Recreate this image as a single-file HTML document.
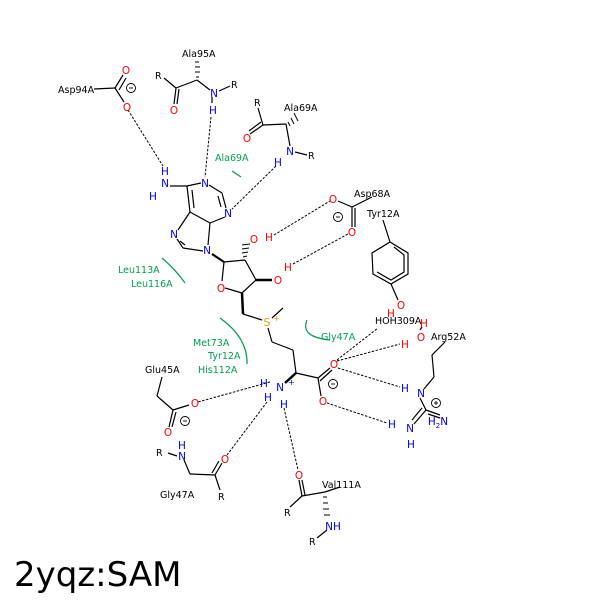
<!DOCTYPE html>
<html><head><meta charset="utf-8"><style>body{margin:0;background:#fff}svg{display:block}</style></head><body>
<svg width="600" height="600" viewBox="0 0 600 600" xmlns="http://www.w3.org/2000/svg" font-family="'DejaVu Sans','Liberation Sans',sans-serif">
<g stroke="#000" stroke-width="1.2" fill="none">
<line x1="94" y1="89" x2="115" y2="88"/><line x1="115" y1="88" x2="123" y2="75"/><line x1="119" y1="90" x2="126" y2="78"/><line x1="115" y1="88" x2="124" y2="102"/>
<line x1="164" y1="78" x2="176" y2="88"/><line x1="176" y1="88" x2="197" y2="80"/><line x1="176" y1="88" x2="174" y2="104"/><line x1="179" y1="89" x2="177" y2="104"/><line x1="197" y1="80" x2="210" y2="90"/><line x1="219" y1="91" x2="230" y2="86"/><line x1="212" y1="97" x2="212" y2="103"/>
<line x1="258" y1="108" x2="263" y2="125"/><line x1="263" y1="125" x2="250" y2="134"/><line x1="261" y1="122" x2="249" y2="131"/><line x1="263" y1="125" x2="286" y2="124"/><line x1="286" y1="124" x2="290" y2="146"/><line x1="295" y1="152" x2="307" y2="155"/>
<line x1="170" y1="186" x2="187" y2="186"/>
<line x1="187" y1="186" x2="201" y2="183"/><line x1="209" y1="185" x2="222" y2="193"/><line x1="222" y1="193" x2="226" y2="208"/><line x1="218" y1="196" x2="221" y2="207"/><line x1="225" y1="217" x2="210" y2="223"/><line x1="210" y1="223" x2="190" y2="212"/><line x1="187" y1="186" x2="190" y2="212"/><line x1="192" y1="190" x2="194" y2="208"/><line x1="190" y1="212" x2="178" y2="230"/><line x1="177" y1="239" x2="183" y2="248"/><line x1="183" y1="248" x2="203" y2="251"/><line x1="210" y1="223" x2="208" y2="245"/>
<line x1="180" y1="241" x2="185" y2="245"/>
<path d="M212 254 L224 262" stroke-width="2.2"/>
<line x1="224" y1="262" x2="245" y2="260"/><line x1="245" y1="260" x2="256" y2="280"/><line x1="256" y1="280" x2="242" y2="293"/><line x1="242" y1="293" x2="225" y2="288"/><line x1="224" y1="262" x2="222" y2="281"/>
<path d="M256 280 L272 280" stroke-width="2.5"/>
<path d="M242 293 L243 314" stroke-width="2.5"/>
<line x1="243" y1="314" x2="262" y2="320"/><line x1="272" y1="318" x2="283" y2="308"/>
<line x1="268" y1="328" x2="272" y2="342"/><line x1="272" y1="342" x2="293" y2="350"/><line x1="293" y1="350" x2="296" y2="373"/><line x1="296" y1="373" x2="318" y2="378"/><line x1="318" y1="378" x2="330" y2="368"/><line x1="320" y1="381" x2="332" y2="370"/><line x1="318" y1="378" x2="321" y2="396"/>
<path d="M296 373 L285 383" stroke-width="2.5"/>
<line x1="352" y1="207" x2="372" y2="197"/><line x1="352" y1="207" x2="338" y2="201"/><line x1="352" y1="207" x2="352" y2="227"/><line x1="355" y1="208" x2="355" y2="227"/>
<line x1="383" y1="220" x2="390" y2="242"/>
<polygon points="390,242 408,253 408,274 391,284 373,274 372,253"/>
<polyline points="394,247 404,255 404,272 391,280 377,272"/>
<line x1="391" y1="284" x2="398" y2="300"/>
<line x1="162" y1="377" x2="157" y2="396"/><line x1="157" y1="396" x2="173" y2="410"/><line x1="173" y1="410" x2="189" y2="405"/><line x1="173" y1="410" x2="169" y2="427"/><line x1="176" y1="412" x2="172" y2="427"/>
<line x1="168" y1="453" x2="177" y2="456"/><line x1="184" y1="460" x2="190" y2="474"/><line x1="190" y1="474" x2="215" y2="475"/><line x1="215" y1="475" x2="222" y2="463"/><line x1="212" y1="473" x2="219" y2="461"/><line x1="215" y1="475" x2="220" y2="490"/>
<line x1="299" y1="480" x2="302" y2="496"/><line x1="302" y1="480" x2="305" y2="495"/><line x1="302" y1="496" x2="290" y2="507"/><line x1="302" y1="496" x2="325" y2="492"/><line x1="325" y1="492" x2="340" y2="487"/><line x1="317" y1="538" x2="327" y2="530"/>
<line x1="445" y1="342" x2="432" y2="355"/><line x1="432" y1="355" x2="434" y2="377"/><line x1="434" y1="377" x2="424" y2="389"/><line x1="420" y1="398" x2="426" y2="410"/><line x1="426" y1="410" x2="414" y2="424"/><line x1="422" y1="408" x2="412" y2="420"/><line x1="426" y1="410" x2="440" y2="415"/><line x1="428" y1="414" x2="440" y2="418"/>
<line x1="420" y1="330" x2="422" y2="327"/>
</g>
<g stroke="#000" stroke-width="1">
<line x1="195" y1="62" x2="199" y2="62"/><line x1="195" y1="67" x2="200" y2="67"/><line x1="195" y1="72" x2="200" y2="72"/><line x1="196" y1="77" x2="199" y2="77"/>
<line x1="288" y1="122" x2="290" y2="126"/><line x1="291" y1="118" x2="294" y2="124"/><line x1="294" y1="113" x2="298" y2="121"/>
<line x1="243" y1="257" x2="247" y2="256"/><line x1="242" y1="253" x2="248" y2="252"/><line x1="242" y1="249" x2="249" y2="248"/><line x1="242" y1="245" x2="250" y2="244"/>
<line x1="323" y1="497" x2="327" y2="497"/><line x1="323" y1="503" x2="328" y2="503"/><line x1="323" y1="509" x2="329" y2="509"/><line x1="324" y1="515" x2="330" y2="515"/>
</g>
<g stroke="#000" stroke-width="1" stroke-dasharray="2.5,1.5" fill="none">
<line x1="128" y1="110" x2="163" y2="166"/>
<line x1="211" y1="117" x2="205" y2="177"/>
<line x1="276" y1="166" x2="232" y2="209"/>
<line x1="274" y1="235" x2="330" y2="201"/>
<line x1="293" y1="264" x2="348" y2="234"/>
<line x1="270" y1="382" x2="198" y2="402"/>
<line x1="267" y1="402" x2="227" y2="455"/>
<line x1="284" y1="408" x2="298" y2="470"/>
<line x1="337" y1="360" x2="378" y2="328"/>
<line x1="337" y1="361" x2="400" y2="344"/>
<line x1="338" y1="368" x2="400" y2="387"/>
<line x1="327" y1="403" x2="387" y2="423"/>
</g>
<g stroke="#009f50" stroke-width="1.2" fill="none">
<path d="M232 171 L241 177"/>
<path d="M162 258 Q176 270 185 283"/>
<path d="M220 318 Q248 338 247 364"/>
<path d="M307 320 Q300 337 330 340"/>
</g>
<g font-size="9.5" fill="#000">
<text x="58" y="93">Asp94A</text>
<text x="182" y="57">Ala95A</text>
<text x="284" y="111">Ala69A</text>
<text x="354" y="197">Asp68A</text>
<text x="367" y="217">Tyr12A</text>
<text x="375" y="324">HOH309A</text>
<text x="431" y="340">Arg52A</text>
<text x="145" y="373">Glu45A</text>
<text x="160" y="498">Gly47A</text>
<text x="322" y="488">Val111A</text>
<text x="155" y="79">R</text><text x="231" y="88">R</text><text x="254" y="106">R</text><text x="308" y="159">R</text>
<text x="156" y="456">R</text><text x="218" y="500">R</text><text x="284" y="516">R</text><text x="309" y="545">R</text>
</g>
<g font-size="9.5" fill="#009f50">
<text x="215" y="161">Ala69A</text>
<text x="118" y="273">Leu113A</text>
<text x="131" y="287">Leu116A</text>
<text x="193" y="346">Met73A</text>
<text x="208" y="359">Tyr12A</text>
<text x="198" y="373">His112A</text>
<text x="321" y="340">Gly47A</text>
</g>
<g font-size="10.5" fill="#f00" text-anchor="middle">
<text x="126" y="74">O</text><text x="127" y="111">O</text><text x="174" y="114">O</text><text x="247" y="142">O</text>
<text x="254" y="243">O</text><text x="269" y="241">H</text><text x="278" y="284">O</text><text x="288" y="271">H</text>
<text x="333" y="203">O</text><text x="352" y="236">O</text><text x="221" y="292">O</text>
<text x="401" y="309">O</text><text x="391" y="317">H</text><text x="424" y="327">H</text><text x="421" y="341">O</text><text x="405" y="348">H</text>
<text x="334" y="368">O</text><text x="323" y="405">O</text><text x="195" y="407">O</text><text x="168" y="436">O</text><text x="225" y="463">O</text><text x="299" y="479">O</text>
</g>
<g font-size="10.5" fill="#00f" text-anchor="middle">
<text x="214" y="97">N</text><text x="213" y="114">H</text><text x="290" y="155">N</text><text x="278" y="166">H</text>
<text x="165" y="175">H</text><text x="165" y="187">N</text><text x="153" y="200">H</text>
<text x="205" y="187">N</text><text x="228" y="217">N</text><text x="174" y="238">N</text><text x="207" y="254">N</text>
<text x="280" y="391">N</text><text x="264" y="387">H</text><text x="268" y="401">H</text><text x="284" y="408">H</text>
<text x="182" y="449">H</text><text x="182" y="460">N</text><text x="333" y="530">NH</text>
<text x="405" y="392">H</text><text x="421" y="397">N</text><text x="392" y="428">H</text><text x="410" y="432">N</text><text x="411" y="448">H</text><text x="438" y="425">H<tspan font-size="7" dy="3">2</tspan><tspan dy="-3">N</tspan></text>
</g>
<text x="288" y="385" font-size="8" fill="#00f">+</text>
<text x="267" y="326" font-size="11" fill="#e8a000" text-anchor="middle">S</text>
<text x="273" y="321" font-size="8" fill="#e8a000">+</text>
<g stroke="#000" stroke-width="0.9" fill="none">
<circle cx="131" cy="88" r="4.5"/><line x1="129" y1="88" x2="133" y2="88"/>
<circle cx="338" cy="217" r="4.5"/><line x1="336" y1="217" x2="340" y2="217"/>
<circle cx="333" cy="384" r="4.5"/><line x1="331" y1="384" x2="335" y2="384"/>
<circle cx="185" cy="421" r="4.5"/><line x1="183" y1="421" x2="187" y2="421"/>
<circle cx="436" cy="403" r="4.5"/><line x1="434" y1="403" x2="438" y2="403"/><line x1="436" y1="401" x2="436" y2="405"/>
</g>
<text x="14" y="586" font-size="34" fill="#000">2yqz:SAM</text>
</svg>
</body></html>
